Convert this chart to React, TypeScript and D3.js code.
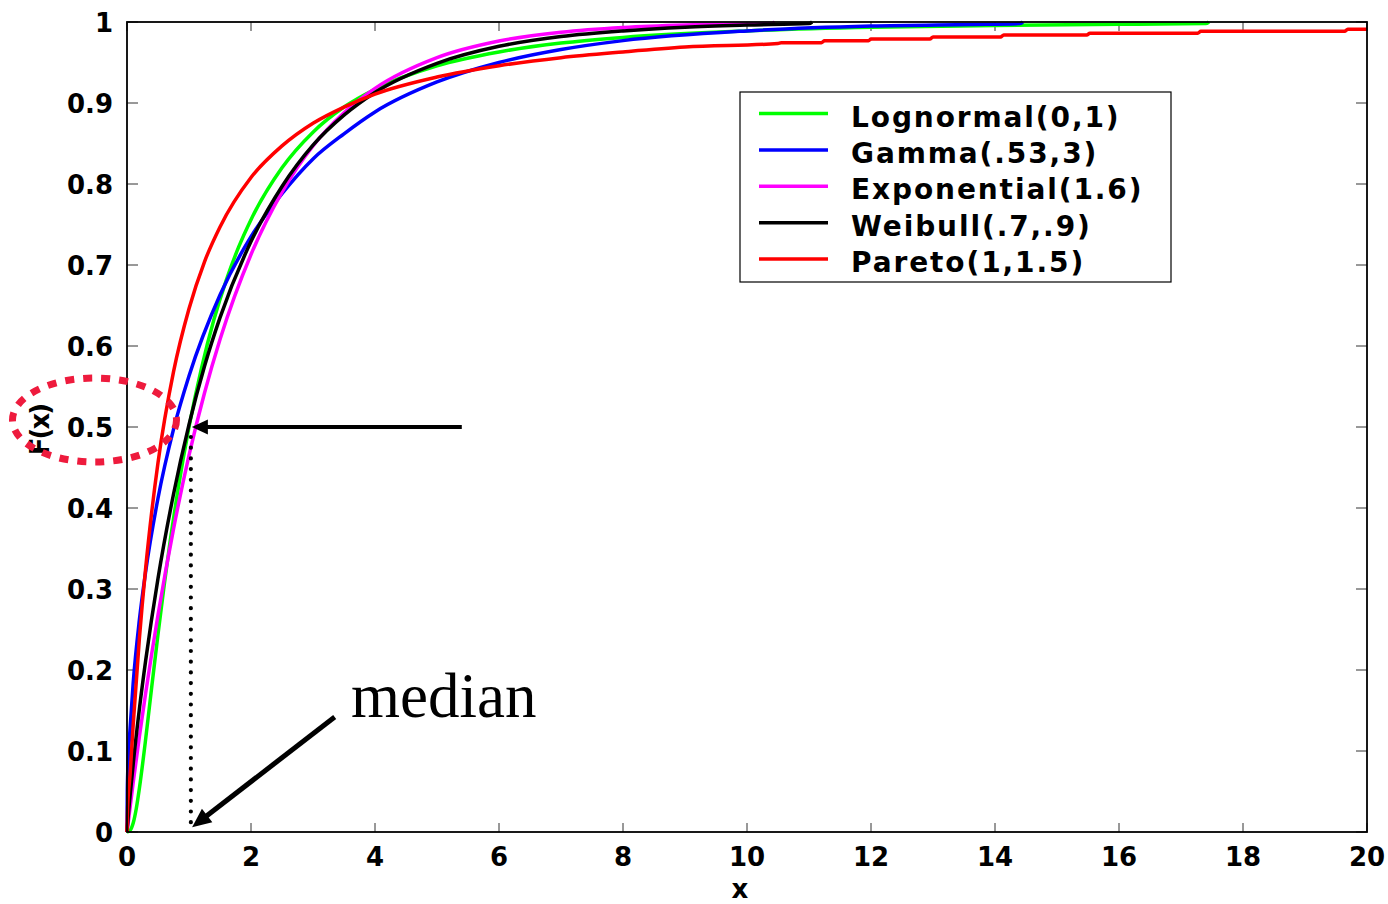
import React from "react";
import * as d3 from "d3";

// ---- data (x, F(x)) ----
const lognormal: [number, number][] = [
  [0, 0], [0.05, 0.002], [0.1, 0.011], [0.15, 0.029], [0.2, 0.054], [0.3, 0.114], [0.4, 0.18],
  [0.5, 0.244], [0.6, 0.305], [0.7, 0.361], [0.8, 0.412], [0.9, 0.458], [1.0, 0.5], [1.2, 0.572],
  [1.4, 0.632], [1.6, 0.681], [1.8, 0.722], [2.0, 0.756], [2.5, 0.82], [3.0, 0.864], [3.5, 0.895],
  [4.0, 0.917], [5.0, 0.946], [6.0, 0.963], [7.0, 0.974], [8.0, 0.981], [10.0, 0.989], [12.0, 0.9935],
  [14.0, 0.9958], [16.0, 0.9972], [17.4, 0.998], [17.45, 1.0],
];
const gamma: [number, number][] = [
  [0, 0], [0.005, 0.05], [0.02, 0.09], [0.05, 0.128], [0.1, 0.184], [0.2, 0.262], [0.3, 0.321],
  [0.5, 0.412], [0.75, 0.497], [1.0, 0.563], [1.5, 0.663], [2.0, 0.735], [2.5, 0.788], [3.0, 0.831],
  [3.5, 0.862], [4.0, 0.889], [5.0, 0.926], [6.0, 0.95], [7.0, 0.966], [8.0, 0.977], [10.0, 0.989],
  [12.0, 0.995], [13.6, 0.997], [14.4, 0.998], [14.45, 1.0],
];
const exponential: [number, number][] = [
  [0, 0], [0.1, 0.061], [0.2, 0.118], [0.3, 0.171], [0.5, 0.268], [0.75, 0.374], [1.0, 0.465],
  [1.25, 0.542], [1.5, 0.608], [2.0, 0.713], [2.5, 0.79], [3.0, 0.847], [3.5, 0.888], [4.0, 0.918],
  [5.0, 0.956], [6.0, 0.9765], [7.0, 0.9874], [8.0, 0.9933], [9.0, 0.9964], [10.4, 0.998], [10.45, 1.0],
];
const weibull: [number, number][] = [
  [0, 0], [0.02, 0.02], [0.05, 0.045], [0.1, 0.084], [0.2, 0.152], [0.3, 0.211], [0.5, 0.313],
  [0.75, 0.417], [1.0, 0.503], [1.25, 0.575], [1.5, 0.635], [2.0, 0.729], [2.5, 0.797], [3.0, 0.848],
  [3.5, 0.885], [4.0, 0.913], [5.0, 0.949], [6.0, 0.97], [7.0, 0.982], [8.0, 0.989], [9.0, 0.9936],
  [10.0, 0.9962], [11.0, 0.998], [11.05, 1.0],
];
const pareto: [number, number][] = [
  [0, 0], [0.01, 0.03], [0.05, 0.071], [0.1, 0.133], [0.2, 0.239], [0.3, 0.325], [0.4, 0.396],
  [0.5, 0.456], [0.75, 0.568], [1.0, 0.646], [1.25, 0.704], [1.5, 0.747], [2.0, 0.808], [2.5, 0.847],
  [3.0, 0.875], [3.5, 0.895], [4.0, 0.911], [5.0, 0.932], [6.0, 0.946], [7.0, 0.956], [8.0, 0.963],
  [9.0, 0.969], [10.5, 0.9735], [10.55, 0.9745], [11.2, 0.9745], [11.25, 0.9768], [11.96, 0.9768],
  [12.0, 0.979], [12.95, 0.979], [13.0, 0.9815], [14.09, 0.9815], [14.14, 0.984], [15.48, 0.984],
  [15.53, 0.9862], [17.27, 0.9862], [17.32, 0.9885], [19.64, 0.9885], [19.69, 0.991], [20, 0.991],
];

const seriesNames = ["Lognormal(0,1)", "Gamma(.53,3)", "Exponential(1.6)", "Weibull(.7,.9)", "Pareto(1,1.5)"];
const seriesColors = ["#00ff00", "#0000ff", "#ff00ff", "#000000", "#ff0000"];
const seriesData = [lognormal, gamma, exponential, weibull, pareto];

const xTicks = [0, 2, 4, 6, 8, 10, 12, 14, 16, 18, 20];
const xTickLabels = ["0", "2", "4", "6", "8", "10", "12", "14", "16", "18", "20"];
const yTicks = [0, 0.1, 0.2, 0.3, 0.4, 0.5, 0.6, 0.7, 0.8, 0.9, 1];
const yTickLabels = ["0", "0.1", "0.2", "0.3", "0.4", "0.5", "0.6", "0.7", "0.8", "0.9", "1"];

// annotation anchors (data units)
const medianX = 1.03;
const medianF = 0.5;
const arrowStartX = 5.4;
const medianArrowStart: [number, number] = [3.35, 0.142];
const medianArrowEnd: [number, number] = [1.05, 0.006];

const W = 1388;
const H = 904;
const L = 127, R = 1367, T = 22, B = 832;
const tickFont = "'DejaVu Sans', Verdana, sans-serif";

function arrowHead(tip: [number, number], from: [number, number], len: number, half: number) {
  const dx = tip[0] - from[0];
  const dy = tip[1] - from[1];
  const d = Math.hypot(dx, dy);
  const ux = dx / d, uy = dy / d;
  const bx = tip[0] - ux * len, by = tip[1] - uy * len;
  const px = -uy, py = ux;
  return `${tip[0]},${tip[1]} ${bx + px * half},${by + py * half} ${bx - px * half},${by - py * half}`;
}

export default function App() {
  const x = d3.scaleLinear().domain([0, 20]).range([L, R]);
  const y = d3.scaleLinear().domain([0, 1]).range([B, T]);
  const line = d3
    .line<[number, number]>()
    .x((d) => x(d[0]))
    .y((d) => y(d[1]))
    .curve(d3.curveMonotoneX);

  const hTip: [number, number] = [x(medianX) + 1, y(medianF)];
  const hStart: [number, number] = [x(arrowStartX), y(medianF)];
  const mStart: [number, number] = [x(medianArrowStart[0]), y(medianArrowStart[1])];
  const mTip: [number, number] = [x(medianArrowEnd[0]), y(medianArrowEnd[1])];
  const hBase = [hTip[0] + 15, hTip[1]];
  const mdx = mTip[0] - mStart[0], mdy = mTip[1] - mStart[1];
  const md = Math.hypot(mdx, mdy);
  const mBase = [mTip[0] - (mdx / md) * 17, mTip[1] - (mdy / md) * 17];

  const legX = 740, legY = 92, legW = 431, legH = 190;
  const rowY0 = 113.5, rowDy = 36.4;

  return (
    <svg
      width={W}
      height={H}
      style={{ position: "absolute", left: 0, top: 0, background: "#fff" }}
      xmlns="http://www.w3.org/2000/svg"
    >
      <rect x={0} y={0} width={W} height={H} fill="#fff" />
      {/* ticks */}
      {xTicks.map((t) => (
        <g key={"xt" + t} stroke="#333" strokeWidth={1}>
          <line x1={x(t)} x2={x(t)} y1={B} y2={B - 9} />
          <line x1={x(t)} x2={x(t)} y1={T} y2={T + 9} />
        </g>
      ))}
      {yTicks.map((t) => (
        <g key={"yt" + t} stroke="#333" strokeWidth={1}>
          <line x1={L} x2={L + 11} y1={y(t)} y2={y(t)} />
          <line x1={R} x2={R - 11} y1={y(t)} y2={y(t)} />
        </g>
      ))}
      {/* curves */}
      {seriesData.map((d, i) => (
        <path
          key={seriesNames[i]}
          d={line(d) || ""}
          fill="none"
          stroke={seriesColors[i]}
          strokeWidth={3.5}
          strokeLinejoin="round"
        />
      ))}
      {/* axes box */}
      <rect x={L} y={T} width={R - L} height={B - T} fill="none" stroke="#000" strokeWidth={1.8} />
      {/* tick labels */}
      {xTicks.map((t, i) => (
        <text
          key={"xl" + t}
          x={x(t)}
          y={866}
          textAnchor="middle"
          fontFamily={tickFont}
          fontWeight="bold"
          fontSize={26}
        >
          {xTickLabels[i]}
        </text>
      ))}
      {yTicks.map((t, i) => (
        <text
          key={"yl" + t}
          x={113}
          y={y(t) + 9.5}
          textAnchor="end"
          fontFamily={tickFont}
          fontWeight="bold"
          fontSize={26}
        >
          {yTickLabels[i]}
        </text>
      ))}
      <text x={740} y={898} textAnchor="middle" fontFamily={tickFont} fontWeight="bold" fontSize={26}>
        x
      </text>
      <text
        transform={`translate(49, 430) rotate(-90)`}
        textAnchor="middle"
        fontFamily={tickFont}
        fontWeight="bold"
        fontSize={26}
        letterSpacing={-2}
      >
        F(x)
      </text>
      {/* legend */}
      <rect x={legX} y={legY} width={legW} height={legH} fill="#fff" stroke="#000" strokeWidth={1.2} />
      {seriesNames.map((n, i) => (
        <g key={"lg" + n}>
          <line
            x1={759}
            x2={828}
            y1={rowY0 + i * rowDy}
            y2={rowY0 + i * rowDy}
            stroke={seriesColors[i]}
            strokeWidth={3.5}
          />
          <text
            x={851}
            y={rowY0 + i * rowDy + 13}
            fontFamily={tickFont}
            fontWeight="bold"
            fontSize={28}
            letterSpacing={1.9}
          >
            {n}
          </text>
        </g>
      ))}
      {/* median annotations */}
      <line
        x1={x(medianX)}
        x2={x(medianX)}
        y1={y(medianF) + 10}
        y2={B - 5}
        stroke="#000"
        strokeWidth={4.2}
        strokeDasharray="0 10.7"
        strokeLinecap="round"
      />
      <line x1={hStart[0]} y1={hStart[1]} x2={hBase[0]} y2={hBase[1]} stroke="#000" strokeWidth={4} />
      <polygon points={arrowHead(hTip, hStart, 16, 7.5)} fill="#000" />
      <line x1={mStart[0]} y1={mStart[1]} x2={mBase[0]} y2={mBase[1]} stroke="#000" strokeWidth={5} />
      <polygon points={arrowHead(mTip, mStart, 19, 8.5)} fill="#000" />
      <text x={351} y={717} fontFamily="'Liberation Serif', 'Times New Roman', serif" fontSize={63}>
        median
      </text>
      <ellipse
        cx={94.5}
        cy={420}
        rx={82}
        ry={42}
        fill="none"
        stroke="#ee1b3d"
        strokeWidth={7}
        strokeDasharray="9 9"
      />
    </svg>
  );
}
